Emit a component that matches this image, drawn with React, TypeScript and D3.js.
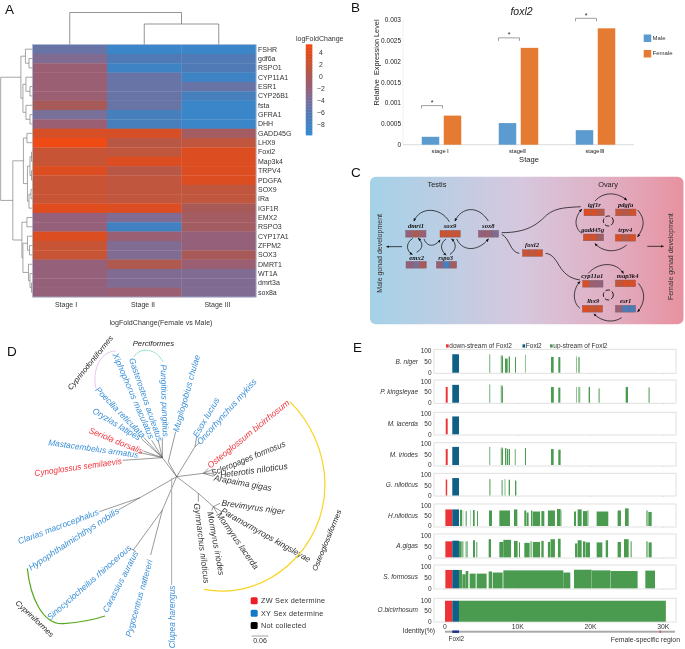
import React from "react";
import * as d3 from "d3";

// ---------- Panel A data ----------
const stages = ["Stage I", "Stage II", "Stage III"];
const genes = ["FSHR","gdf6a","RSPO1","CYP11A1","ESR1","CYP26B1","fsta","GFRA1","DHH","GADD45G","LHX9","Foxl2","Map3k4","TRPV4","PDGFA","SOX9","IRa","IGF1R","EMX2","RSPO3","CYP17A1","ZFPM2","SOX3","DMRT1","WT1A","dmrt3a","sox8a"];
const stageI = [-5,-3.5,-1.5,-1.5,-1.5,-1.5,0,-4,-1.5,3.2,5.2,2,2,3.6,2,2,2,4,-2,-2,3.6,2,2,-2,-2,-2,-2];
const stageII = [-9,-6.5,-8.5,-5,-5,-5,-5,-7.5,-7.5,3.2,1,1.5,3.6,1,1.5,1.5,1.5,3.6,-3.5,-8,-1.5,-3.5,-3.5,0.5,-3.5,-3.5,-1.5];
const stageIII = [-9,-6.5,-6.5,-8.5,-5,-7.5,-9,-9,-9,-0.5,1.5,3.6,3.6,3.6,3.6,1.5,1.5,0,-0.5,-0.5,-2,-2,0,-1.5,-3.5,-3.5,-3.5];
const legendTicks = [4,2,0,-2,-4,-6,-8];
type T = { h: number; c: (T | string)[] };
const rowTree: T = { h: 31.5, c: [
  { h: 11.5, c: [
    { h: 7, c: ["FSHR", { h: 3.5, c: ["gdf6a","RSPO1"] }] },
    { h: 9.5, c: [
      { h: 6.5, c: ["CYP11A1", { h: 2.5, c: ["ESR1","CYP26B1"] }] },
      { h: 6.5, c: ["fsta", { h: 2.5, c: ["GFRA1","DHH"] }] },
    ] },
  ] },
  { h: 19.5, c: [
    { h: 9, c: [
      { h: 5.5, c: ["GADD45G","LHX9"] },
      { h: 5, c: [
        { h: 2.5, c: [{ h: 1, c: ["Foxl2","Map3k4"] }, { h: 1, c: ["TRPV4","PDGFA"] }] },
        { h: 3.5, c: [{ h: 1.5, c: ["SOX9","IRa"] }, "IGF1R"] },
      ] },
    ] },
    { h: 10.5, c: [
      { h: 5.5, c: ["EMX2","RSPO3"] },
      { h: 9.5, c: [
        { h: 5, c: ["CYP17A1", { h: 3, c: ["ZFPM2","SOX3"] }] },
        { h: 4, c: ["DMRT1", { h: 2.5, c: ["WT1A", { h: 1, c: ["dmrt3a","sox8a"] }] }] },
      ] },
    ] },
  ] },
] };
const colTree: T = { h: 32, c: ["Stage I", { h: 20.5, c: ["Stage II","Stage III"] }] };

// ---------- Panel B data ----------
const bStages = ["stage Ⅰ", "stageⅡ", "stageⅢ"];
const bMale = [0.00019, 0.00052, 0.00035];
const bFemale = [0.0007, 0.00233, 0.0028];
const bTicks = [0,0.0005,0.001,0.0015,0.002,0.0025,0.003];

// ---------- Panel C data ----------
const cGenes = ["dmrt1","sox9","sox8","emx2","rspo3","foxl2","igf1r","pdgfa","gadd45g","trpv4","cyp11a1","map3k4","lhx9","esr1"];
const cValues = [[-2,0.5,-1.5],[2.6,2.4,2.2],[-2,-1.5,-3.5],[-2,-3.5,0],[-2,-8,-0.5],[2,2,3],[4,3.5,1],[2,1,3],[3.2,3,-0.5],[3.5,1,3.5],[3.6,-1.5,-2],[2,3.5,3.5],[4,2.5,2.5],[-1.5,-7,-7]];
// tile x (left), y (top), label x, label y in 3x picture units
const cTileX = [197,300,415,198,289,547,732,827,730,826,728,826,727,826];
const cTileY = [196,196,196,289,289,254,132,132,207,208,346,345,421,421];
const cLabX = [228,330,445,230,317,576,763,857,758,856,757,863,760,857];
const cLabY = [185,185,185,280,280,242,122,122,195,197,335,335,410,410];
const cArrows = [
 "M328,170C300,125 240,125 222,168","M445,168C415,120 365,125 345,168","M350,222C370,265 420,255 445,222",
 "M218,220C195,235 200,260 217,268","M230,262C250,250 250,235 235,220","M252,222C262,248 285,245 300,225",
 "M318,222C300,235 300,255 318,270","M330,268C350,255 350,235 335,222",
 "M186,245L140,245","M922,244L970,244",
 "M765,108C790,80 830,80 860,105","M893,135C915,160 915,185 893,215","M860,240C830,265 790,262 765,236","M725,205C700,185 705,155 725,133",
 "M745,325C775,290 830,290 850,325","M895,355C918,380 915,415 893,440","M845,458C820,475 785,470 762,447","M720,430C695,410 700,370 720,350",
];
const cLinks = ["M485,203C560,203 590,180 620,150C650,125 690,128 722,125","M485,208C510,220 510,262 538,265","M617,265C660,270 650,335 720,345"];
const cRings = [[805,168],[805,390]];

// ---------- Panel D data (3x picture units) ----------
const treeNodes: [string,string,number,number][] = [
 ["c","",530,425],["hub","c",487,368],["mug","c",505,380],["e","c",585,335],["o","c",610,415],["g","c",595,475],["m","g",640,515],
 ["cl","c",420,488],["cy","c",487,525],["si","cy",400,645],
 ["L1","hub",368,376],["L2","hub",417,352],["L3","hub",430,348],["L4","hub",425,312],["L5","hub",432,308],["L6","hub",455,316],["L7","hub",475,318],["L8","hub",487,308],
 ["L9","mug",527,290],["L10","e",590,305],["L11","e",600,322],
 ["L12","o",625,400],["L13","o",640,402],["L14","o",642,415],["L15","o",640,424],
 ["L16","m",660,505],["L17","m",665,530],["L18","m",652,535],["L19","m",635,527],["L20","g",595,500],
 ["L22","cy",452,660],["L23","si",408,650],["L24","si",390,640],["L25","cl",355,525],["L26","cl",298,530],
];
const clupea = [[515,430],[515,750]];
const species = ["Cynoglossus semilaevis","Mastacembelus armatus","Seriola dorsalis","Oryzias latipes","Poecilia reticulata","Xiphophorus maculatus","Gasterosteus aculeatus","Pungitius pungitius","Mugilogobius chulae","Esox lucius","Oncorhynchus mykiss","Osteoglossum bicirrhosum","Scleropages formosus","Heterotis niloticus","Arapaima gigas","Brevimyrus niger","Paramormyrops kingsleyae","Mormyrus lacerda","Mormyrus iriodes","Gymnarchus niloticus","Clupea harengus","Pygocentrus nattereri","Carassius auratus","Sinocyclocheilus rhinocerous","Hypophthalmichthys nobilis","Clarias macrocephalus"];
const speciesSex = ["ZW","XY","ZW","XY","XY","XY","XY","XY","XY","XY","XY","ZW","NC","NC","NC","NC","NC","NC","NC","NC","XY","XY","XY","XY","XY","XY"];
const speciesEnds = [[103,415,365,378],[145,322,415,360],[268,285,428,350],[280,225,420,310],[290,160,432,305],[345,55,455,310],[395,70,480,318],[490,88,497,305],[527,290,592,60],[585,305,652,190],[595,325,765,135],[625,395,865,200],[635,415,855,325],[660,420,863,393],[642,428,815,460],[665,503,853,530],[665,525,930,675],[655,535,770,700],[630,530,665,720],[590,505,620,745],[517,940,517,752],[385,905,450,675],[315,830,408,650],[145,850,390,635],[88,700,355,525],[55,620,295,530]];
const orderArcs: [string,string][] = [
 ["M347,48C300,48 275,110 288,160","#e6b8ee"],
 ["M402,65C420,35 470,40 488,80","#86dccb"],
 ["M870,200C930,260 975,350 975,450C975,640 800,800 612,763","#f9d41f"],
 ["M82,700C90,780 125,870 190,866C240,862 280,855 315,843","#57a81c"],
];
const orderLabels: [string,number,number,number,number,string][] = [
 ["Cyprinodontiformes",207,162,335,5,"#222"],["Perciformes",398,27,522,27,"#222"],
 ["Osteoglossiformes",943,707,1018,525,"#222"],["Cypriniformes",50,800,158,902,"#222"],
];
const sexLegend: [string,string][] = [["ZW Sex determine","#ee1c25"],["XY Sex determine","#1478c4"],["Not collected","#000"]];

// ---------- Panel E data (kb, identity %) ----------
const eNames = ["B. niger","P. kingsleyae","M. lacerda","M. iriodes","G. niloticus","H.niloticus","A.gigas","S. formosus","O.bicirrhosum"];
const eFrameTop = [349.3,380,412.3,442.7,473.3,504,534,565,598.3];
const eFrameBottom = [373.3,403.3,435,466,496,527,558,589,622];
const eY100 = [351,381.7,413.3,443.7,475,505.3,536,566.7,600.3];
const eY0 = [372.7,402.7,434.3,465,495.5,526,557.3,588.3,621.7];
const eRed = [null,[0.1,0.37,75],[0.1,0.37,75],[0.1,0.37,75],[0.1,0.3,78],[0.05,1,80],[0.05,1,75],[0.05,1,85],[0,1,98]];
const eBlue = [85,85,85,85,85,80,78,85,98];
const g1 = [[6.05,6.23,85,1],[7.65,7.97,80,1],[7.8,7.97,75,0],[8.25,8.61,65,0],[8.75,8.93,75,0],[9.62,9.76,72,0],[10.99,11.13,82,1],[14.57,14.93,73,0],[15.57,15.85,72,0],[18.0,18.14,75,1],[18.28,18.55,72,1]];
const g2 = [[6.05,6.23,87,1],[7.65,7.95,83,1],[7.8,7.95,75,0],[14.57,14.95,75,0],[15.57,15.85,72,0],[18.0,18.14,75,1],[18.3,18.6,75,1],[19.74,19.93,75,0],[21.07,21.3,68,1],[24.83,25.15,75,0],[27.94,28.17,73,1]];
const g3: number[][] = [];
const g4 = [[6.05,6.23,85,1],[7.65,7.97,82,1],[7.8,7.97,75,0],[8.25,8.43,80,0],[8.52,8.66,75,0],[8.75,8.93,75,0],[9.57,9.76,75,1],[10.99,11.13,80,0],[14.57,14.93,75,0],[15.57,15.89,72,0]];
const g5 = [[6.05,6.28,80,1],[7.74,7.97,75,1],[8.11,8.38,80,2],[8.75,8.93,77,0],[9.62,9.8,73,0]];
const g6 = [[2.06,2.34,78,0],[2.43,2.52,75,1],[2.84,2.98,72,0],[3.44,3.53,78,1],[3.85,4.08,77,0],[4.4,4.53,72,0],[6.05,6.46,75,0],[7.47,8.93,75,0],[9.48,9.94,80,0],[10.9,11.17,75,0],[11.22,11.49,65,0],[11.82,12,75,0],[12.05,13.06,70,0],[13.24,13.65,72,0],[14.14,15.11,75,0],[15.39,15.89,82,0],[15.89,16.03,75,1],[17.73,18,70,0],[18.23,18.78,80,0],[18.96,19.56,72,0],[19.56,19.74,76,1],[20.84,22.44,70,0],[23.72,24.18,75,0],[24.74,25.24,85,0],[27.62,27.89,75,1],[27.94,28.4,68,0]];
const g7 = [[1.92,2.29,75,0],[2.38,2.52,75,0],[2.8,3.16,75,1],[3.85,4.12,80,0],[4.31,4.44,72,0],[6.0,6.32,85,0],[7.47,8.02,72,0],[8.02,9.08,82,0],[9.48,9.98,77,0],[10.17,10.31,70,0],[10.9,11.63,68,0],[11.72,12,75,1],[12.09,13.06,72,0],[13.24,13.56,77,0],[14.14,14.46,72,0],[14.5,15.11,85,0],[15.52,15.89,87,0],[17.87,18.19,65,0],[18.23,18.78,80,0],[18.96,19.28,75,0],[19.33,19.92,70,0],[20.84,21.62,70,0],[22.09,22.41,80,0],[23.72,24.18,72,0],[24.6,25.24,85,0],[25.51,25.65,75,0],[27.62,27.89,75,1],[27.98,28.4,70,0]];
const g8 = [[1.92,2.33,85,0],[2.38,2.84,65,0],[2.84,3.2,80,0],[3.39,4.21,68,0],[4.35,5.72,68,0],[6.0,6.46,78,0],[6.55,7.92,73,0],[8.02,16.26,83,0],[16.26,17.22,73,0],[17.73,20.16,86,0],[20.2,22.76,83,0],[22.81,26.47,80,0],[27.53,28.86,82,0]];
const g9 = [[1.92,30.35,98,0]];
const eGreen = [g1,g2,g3,g4,g5,g6,g7,g8,g9];
const eYTicks = [100,50,0];
const eXTicks = [0,10,20,30];
const eLegend: [string,string,number][] = [["down-stream of Foxl2","#ee3338",446],["Foxl2","#0f5f87",522.5],["up-stream of Foxl2","#4a9b4f",550]];

// ---------- Scales ----------
const heatColor = d3.scaleLinear<string>()
  .domain([-9,-6.5,-4,-2,0,2,3.6,5.2])
  .range(["#3a86c9","#4f7ab5","#79709a","#95607a","#a85a58","#c75434","#dc4d22","#f04a15"]);
const FONT = "'Liberation Sans', Arial, sans-serif";
const zx = (v: number) => 340 + v / 3;
const zy = (v: number) => 165 + v / 3;

function walk(n: T | string, pos: (s: string) => number, out: number[][]): { p: number; h: number } {
  if (typeof n === "string") return { p: pos(n), h: 0 };
  const kids = n.c.map((k) => walk(k, pos, out));
  kids.forEach((k) => out.push([k.p, k.h, n.h]));
  out.push([kids[0].p, n.h, n.h, kids[kids.length - 1].p]);
  return { p: (kids[0].p + kids[kids.length - 1].p) / 2, h: n.h };
}

function PanelA() {
  const x = d3.scaleBand().domain(stages).range([32.5, 256]);
  const y = d3.scaleBand().domain(genes).range([44.5, 297]);
  const values = [stageI, stageII, stageIII];
  const hx = d3.scaleLinear().domain([0, 31.5]).range([32.5, 0.7]);
  const hy = d3.scaleLinear().domain([0, 32]).range([44.5, 12.5]);
  const rows: number[][] = [];
  walk(rowTree, (s) => y(s)! + y.bandwidth() / 2, rows);
  const cols: number[][] = [];
  walk(colTree, (s) => x(s)! + x.bandwidth() / 2, cols);
  const leg = d3.scaleLinear().domain([4, -8]).range([52.7, 124.7]);
  const grad = d3.range(0, 60).map((i) => -9.7 + (i * 15.1) / 60);
  return (
    <g>
      {values.map((vals, c) => genes.map((g, r) => (
        <rect key={g + c} x={x(stages[c])} y={y(g)} width={x.bandwidth() + 0.3} height={y.bandwidth() + 0.3} fill={heatColor(vals[r])} />
      )))}
      <rect x={32.5} y={44.5} width={223.5} height={252.5} fill="none" stroke="#a5bcd8" strokeWidth={0.7} />
      {rows.map((s, i) => s.length === 3
        ? <line key={i} x1={hx(s[1])} x2={hx(s[2])} y1={s[0]} y2={s[0]} stroke="#808080" strokeWidth={0.7} />
        : <line key={i} x1={hx(s[1])} x2={hx(s[1])} y1={s[0]} y2={s[3]} stroke="#808080" strokeWidth={0.7} />)}
      {cols.map((s, i) => s.length === 3
        ? <line key={i} y1={hy(s[1])} y2={hy(s[2])} x1={s[0]} x2={s[0]} stroke="#666" strokeWidth={0.7} />
        : <line key={i} y1={hy(s[1])} y2={hy(s[1])} x1={s[0]} x2={s[3]} stroke="#666" strokeWidth={0.7} />)}
      {genes.map((g) => <text key={g} x={258} y={y(g)! + y.bandwidth() / 2} dy="0.35em" fontSize={7} fill="#333">{g}</text>)}
      {stages.map((s, i) => <text key={s} x={[66, 143, 217.5][i]} y={306.5} textAnchor="middle" fontSize={7} fill="#333">{s}</text>)}
      <text x={161} y={324.5} textAnchor="middle" fontSize={7.1} fill="#333">logFoldChange(Female vs Male)</text>
      <text x={296} y={40.5} fontSize={7} fill="#333">logFoldChange</text>
      {grad.map((v) => <rect key={v} x={305.8} y={leg(v) - 1.5} width={6.5} height={2} fill={heatColor(v)} />)}
      {legendTicks.map((t) => <text key={t} x={321} y={leg(t)} dy="0.35em" textAnchor="middle" fontSize={6.8} fill="#333">{t < 0 ? "−" + -t : t}</text>)}
    </g>
  );
}

function PanelB() {
  const x = d3.scaleBand().domain(bStages).range([403, 634]);
  const y = d3.scaleLinear().domain([0, 0.003]).range([144.7, 20]);
  const w = 17.5, gap = 4.5;
  return (
    <g>
      <line x1={403} x2={634} y1={144.7} y2={144.7} stroke="#ccc" strokeWidth={0.7} />
      <line x1={403} x2={403} y1={20} y2={144.7} stroke="#e2e2e2" strokeWidth={0.5} />
      {bTicks.map((t) => <text key={t} x={401} y={y(t)} dy="0.35em" textAnchor="end" fontSize={6.5} fill="#222">{t}</text>)}
      {bStages.map((s, i) => {
        const c = x(s)! + x.bandwidth() / 2;
        const top = y(bFemale[i]) - 10;
        return (
          <g key={s}>
            <rect x={c - gap / 2 - w} y={y(bMale[i])} width={w} height={y(0) - y(bMale[i])} fill="#5b9bd0" />
            <rect x={c + gap / 2} y={y(bFemale[i])} width={w} height={y(0) - y(bFemale[i])} fill="#e57a33" />
            <path d={`M${c - 20} ${top + 3}V${top}H${c + 1}V${top + 3}`} fill="none" stroke="#777" strokeWidth={0.7} />
            <text x={c - 9.5} y={top - 0.5} textAnchor="middle" fontSize={7} fill="#222">*</text>
            <text x={c - 1} y={152.8} textAnchor="middle" fontSize={5.8} fill="#222">{s}</text>
          </g>
        );
      })}
      <text x={529} y={161.5} textAnchor="middle" fontSize={7.6} fill="#222">Stage</text>
      <text transform="translate(378.5,62.5) rotate(-90)" textAnchor="middle" fontSize={7.3} fill="#222" xmlSpace="preserve">Relative  Expression Level</text>
      <text x={521.5} y={15} textAnchor="middle" fontSize={10.5} fontStyle="italic" fill="#222">foxl2</text>
      <rect x={643.7} y={34.5} width={7.5} height={7.5} fill="#5b9bd0" />
      <text x={652.5} y={39.5} fontSize={6} fill="#333">Male</text>
      <rect x={643.7} y={50} width={7.5} height={7.5} fill="#e57a33" />
      <text x={652.5} y={55} fontSize={6} fill="#333">Female</text>
    </g>
  );
}

function PanelC() {
  return (
    <g>
      <defs>
        <linearGradient id="cg" x1="0" x2="1" y1="0" y2="0">
          <stop offset="0" stopColor="#a4d2e8" />
          <stop offset="0.48" stopColor="#d6c8de" />
          <stop offset="0.75" stopColor="#e0b0c4" />
          <stop offset="1" stopColor="#e8919f" />
        </linearGradient>
        <marker id="ah" markerWidth="12" markerHeight="12" refX="8" refY="5" orient="auto" markerUnits="userSpaceOnUse">
          <path d="M0,1L10,5L0,9Z" fill="#111" />
        </marker>
      </defs>
      <rect x={370} y={176.7} width={313.5} height={147.5} rx={6} fill="url(#cg)" />
      <g transform="translate(340,165) scale(0.33333)">
        {cArrows.map((d, i) => <path key={i} d={d} fill="none" stroke="#1a1a1a" strokeWidth={2.4} markerEnd="url(#ah)" />)}
        {cLinks.map((d, i) => <path key={i} d={d} fill="none" stroke="#1a1a1a" strokeWidth={2.4} />)}
        {cRings.map(([a, b], i) => <circle key={i} cx={a} cy={b} r={15} fill="none" stroke="#1a1a1a" strokeWidth={3} strokeDasharray="14 6" />)}
      </g>
      {cGenes.map((g, i) => {
        const cell = d3.scaleBand().domain(["0", "1", "2"]).range([zx(cTileX[i]), zx(cTileX[i] + 61)]);
        return (
          <g key={g}>
            {cValues[i].map((v, k) => (
              <rect key={k} x={cell(String(k))} y={zy(cTileY[i])} width={cell.bandwidth()} height={6.8} fill={heatColor(v)} stroke="#7a6068" strokeWidth={0.4} />
            ))}
            <text x={zx(cLabX[i])} y={zy(cLabY[i]) + 1.8} textAnchor="middle" fontFamily="'Liberation Serif', serif" fontStyle="italic" fontWeight="bold" fontSize={6.6} fill="#111">{g}</text>
          </g>
        );
      })}
      <text x={zx(291)} y={zy(58) + 2.4} textAnchor="middle" fontSize={7.4} fill="#222">Testis</text>
      <text x={zx(804)} y={zy(58) + 2.4} textAnchor="middle" fontSize={7.4} fill="#222">Ovary</text>
      <text transform={`translate(${zx(118) + 2.4},${zy(265)}) rotate(-90)`} textAnchor="middle" fontSize={7} fill="#333">Male gonad development</text>
      <text transform={`translate(${zx(992) + 2.4},${zy(275)}) rotate(-90)`} textAnchor="middle" fontSize={7} fill="#333">Female gonad development</text>
    </g>
  );
}

function PanelD() {
  const px = d3.scaleLinear().domain([0, 1020]).range([0, 340]);
  const py = d3.scaleLinear().domain([0, 942]).range([335, 649]);
  const byName = new Map(treeNodes.map((n) => [n[0], n]));
  const sexColor: Record<string, string> = { ZW: "#f0363d", XY: "#3a8fd8", NC: "#333" };
  return (
    <g>
      {treeNodes.filter((n) => n[1]).map((n) => {
        const p = byName.get(n[1])!;
        return <line key={n[0]} x1={px(p[2])} y1={py(p[3])} x2={px(n[2])} y2={py(n[3])} stroke="#555" strokeWidth={0.6} />;
      })}
      <line x1={px(clupea[0][0])} y1={py(clupea[0][1])} x2={px(clupea[1][0])} y2={py(clupea[1][1])} stroke="#aaa" strokeWidth={1} />
      {species.map((s, i) => {
        const [a, b, c, d] = speciesEnds[i];
        const ang = (Math.atan2(py(d) - py(b), px(c) - px(a)) * 180) / Math.PI;
        const len = Math.hypot(py(d) - py(b), px(c) - px(a));
        return (
          <text key={s} transform={`translate(${px((a + c) / 2)},${py((b + d) / 2)}) rotate(${ang})`} textAnchor="middle" dy="0.33em"
            fontSize={8.6} fontStyle="italic" fill={sexColor[speciesSex[i]]} textLength={len} lengthAdjust="spacingAndGlyphs">{s}</text>
        );
      })}
      <g transform="scale(0.33333)">
        <g transform="translate(0,1005)">
          {orderArcs.map(([d, col], i) => <path key={i} d={d} fill="none" stroke={col} strokeWidth={i < 2 ? 2.6 : 3.6} />)}
        </g>
      </g>
      {orderLabels.map(([s, a, b, c, d, col]) => {
        const ang = (Math.atan2(py(d) - py(b), px(c) - px(a)) * 180) / Math.PI;
        const len = Math.hypot(py(d) - py(b), px(c) - px(a));
        return <text key={s} transform={`translate(${px((a + c) / 2)},${py((b + d) / 2)}) rotate(${ang})`} textAnchor="middle" dy="0.33em"
          fontSize={7.4} fontStyle="italic" fill={col} textLength={len} lengthAdjust="spacingAndGlyphs">{s}</text>;
      })}
      {sexLegend.map(([s, col], i) => (
        <g key={s}>
          <rect x={px(752)} y={py(787 + i * 37)} width={7} height={7} rx={1.5} fill={col} />
          <text x={px(783)} y={py(797 + i * 37) + 2.6} fontSize={7.3} fill="#333" letterSpacing={0.25}>{s}</text>
        </g>
      ))}
      <line x1={px(755)} x2={px(805)} y1={py(903)} y2={py(903)} stroke="#888" strokeWidth={0.8} />
      <text x={px(780)} y={py(925)} textAnchor="middle" fontSize={7} fill="#333">0.06</text>
    </g>
  );
}

function PanelE() {
  const x = d3.scaleLinear().domain([0, 30]).range([445, 663.3]);
  const lightOp = [1, 0.6, 0.35];
  return (
    <g>
      {eLegend.map(([s, c, lx]) => (
        <g key={s}>
          <rect x={lx} y={344.3} width={2.7} height={3.3} fill={c} />
          <text x={lx + 3.3} y={348.3} fontSize={6.5} fill="#333">{s}</text>
        </g>
      ))}
      {eNames.map((n, i) => {
        const y = d3.scaleLinear().domain([0, 100]).range([eY0[i], eY100[i]]);
        const red = eRed[i];
        return (
          <g key={n}>
            <rect x={434} y={eFrameTop[i]} width={242} height={eFrameBottom[i] - eFrameTop[i]} fill="#fff" stroke="#ddd" strokeWidth={0.9} />
            {eXTicks.map((t) => <line key={t} x1={x(t)} x2={x(t)} y1={eFrameBottom[i]} y2={eFrameBottom[i] + 1} stroke="#bbb" strokeWidth={0.4} />)}
            {eYTicks.map((t) => <text key={t} x={431.5} y={y(t)} dy="0.35em" textAnchor="end" fontSize={6.5} fill="#333">{t}</text>)}
            <text x={418} y={(eFrameTop[i] + eFrameBottom[i]) / 2} dy="0.35em" textAnchor="end" fontSize={6.5} fontStyle="italic" fill="#333">{n}</text>
            {red && <rect x={x(red[0])} y={y(red[2])} width={x(red[1]) - x(red[0])} height={y(0) - y(red[2])} fill="#ee3338" />}
            <rect x={x(1)} y={y(eBlue[i])} width={x(1.92) - x(1)} height={y(0) - y(eBlue[i])} fill="#0f5f87" />
            {eGreen[i].map((g, k) => (
              <rect key={k} x={x(g[0])} y={y(g[2])} width={x(g[1]) - x(g[0])} height={y(0) - y(g[2])} fill="#4a9b4f" opacity={lightOp[g[3]]} />
            ))}
          </g>
        );
      })}
      {eXTicks.map((t) => <text key={t} x={x(t)} y={629} textAnchor="middle" fontSize={6.8} fill="#333">{t === 0 ? "0" : t + "K"}</text>)}
      <text x={402.5} y={632.5} fontSize={6.8} fill="#333">Identity(%)</text>
      <rect x={x(0)} y={630.7} width={230} height={2} fill="#aaa" />
      <rect x={x(1)} y={630.5} width={x(1.92) - x(1)} height={2.4} fill="#1a2f8f" />
      <rect x={x(29.5)} y={630.5} width={1.2} height={2.4} fill="#ee3338" />
      <text x={448.5} y={640.5} fontSize={6.4} fill="#333">Foxl2</text>
      <text x={680} y={641.5} textAnchor="end" fontSize={6.9} fill="#333">Female-specific region</text>
    </g>
  );
}

export default function App() {
  return (
    <svg width={685} height={649} viewBox="0 0 685 649"
      style={{ position: "absolute", left: 0, top: 0, background: "#fff", fontFamily: FONT, filter: "blur(0.3px)" }}>
      <text x={5} y={14} fontSize={13.5} fill="#111">A</text>
      <text x={351} y={12} fontSize={13.5} fill="#111">B</text>
      <text x={351} y={177} fontSize={13.5} fill="#111">C</text>
      <text x={7} y={356} fontSize={13.5} fill="#111">D</text>
      <text x={353} y={352} fontSize={13.5} fill="#111">E</text>
      <PanelA />
      <PanelB />
      <PanelC />
      <PanelD />
      <PanelE />
    </svg>
  );
}
